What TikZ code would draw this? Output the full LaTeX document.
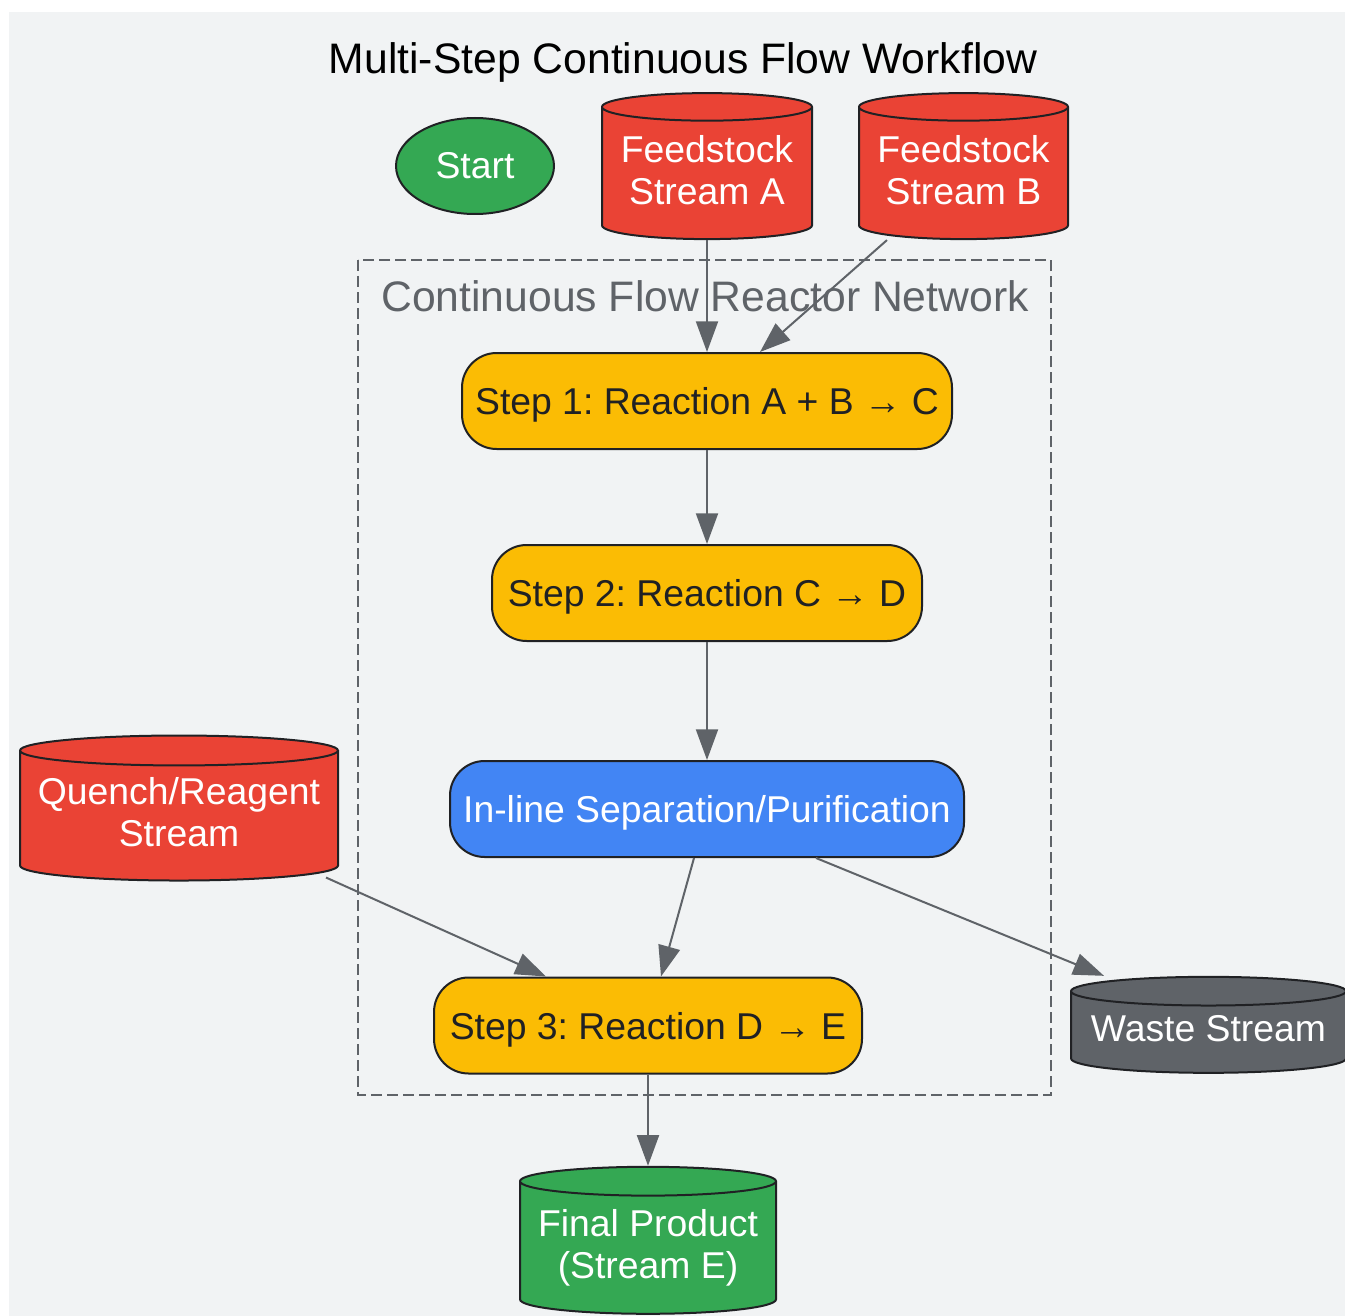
\documentclass[tikz,border=0pt]{standalone}
\usepackage{fontspec}
\setmainfont{Liberation Sans}
\usetikzlibrary{arrows.meta,shapes.geometric}

\definecolor{panelbg}{HTML}{F1F3F4}
\definecolor{streamred}{HTML}{EA4335}
\definecolor{startgreen}{HTML}{34A853}
\definecolor{stepyellow}{HTML}{FBBC04}
\definecolor{sepblue}{HTML}{4285F4}
\definecolor{wastegray}{HTML}{5F6368}
\definecolor{inkdark}{HTML}{202124}

\begin{document}
\frenchspacing
\begin{tikzpicture}[
    x=0.75pt, y=-0.75pt,
    every node/.style={font=\fontsize{28}{31.5}\selectfont, inner sep=0pt},
    process/.style={draw=inkdark, line width=1.5pt, rounded corners=26pt,
        fill=stepyellow, text=inkdark, minimum height=72pt, text depth=0pt},
    store/.style={cylinder, shape border rotate=90,
        draw=inkdark, line width=1.5pt, fill=streamred, text=white,
        align=center, text depth=6pt},
    flow/.style={draw=wastegray, line width=1.5pt,
        -{Triangle[length=23pt,width=16.5pt]}},
    cluster line/.style={draw=wastegray, line width=1.5pt,
        dash pattern=on 8pt off 4pt}
    ]
    \useasboundingbox (0,0) rectangle (1345,1316);
    % background
    \fill[panelbg] (9,12) rectangle (1345,1316);
    % title
    \node (title) at (683,62)
        {\fontsize{32}{36}\selectfont Multi-Step Continuous Flow Workflow};
    % reactor network box
    \draw[cluster line] (358,260) rectangle (1051,1095);
    \node[text=wastegray] (netlabel) at (705,296)
        {\fontsize{32}{36}\selectfont Continuous Flow Reactor Network};
    % start and feeds
    \node[ellipse, draw=inkdark, line width=1.5pt, fill=startgreen,
        text=white, minimum width=118.5pt, minimum height=72pt]
        (start) at (475,166) {Start};
    \node[store, aspect=0.16, minimum width=157.5pt, minimum height=109.5pt]
        (feedA) at (707,173.5) {Feedstock\\Stream A};
    \node[store, aspect=0.16, minimum width=156.75pt, minimum height=109.5pt]
        (feedB) at (963.5,173.5) {Feedstock\\Stream B};
    \node[store, aspect=0.106, minimum width=238.5pt, minimum height=108.75pt]
        (quench) at (179,816) {Quench/Reagent\\Stream};
    % reactor steps
    \node[process, minimum width=367.5pt] (step1) at (707,401)
        {Step 1: Reaction A + B → C};
    \node[process, minimum width=322.5pt] (step2) at (707,593)
        {Step 2: Reaction C → D};
    \node[process, minimum width=385.5pt, fill=sepblue, text=white]
        (sep) at (707,809) {In-line Separation/Purification};
    \node[process, minimum width=321pt] (step3) at (648,1025.5)
        {Step 3: Reaction D → E};
    % outputs
    \node[store, aspect=0.122, fill=wastegray, minimum width=206.25pt,
        minimum height=72pt] (waste) at (1208.5,1032.5) {Waste Stream};
    \node[store, aspect=0.131, fill=startgreen, minimum width=192pt,
        minimum height=110.25pt] (final) at (648,1248)
        {Final Product\\(Stream E)};
    % flows
    \draw[flow] (feedA.south) -- (step1.north);
    \draw[flow] ([xshift=-57.4pt]feedB.south) -- ([xshift=39.75pt]step1.north);
    \draw[flow] (step1.south) -- (step2.north);
    \draw[flow] (step2.south) -- (sep.north);
    \draw[flow] ([xshift=-9.75pt]sep.south) -- ([xshift=9.75pt]step3.north);
    \draw[flow] ([xshift=81.75pt]sep.south) -- ([xshift=-78.4pt]waste.north);
    \draw[flow] ([xshift=110.25pt,yshift=3pt]quench.south)
        -- ([xshift=-76.5pt]step3.north);
    \draw[flow] (step3.south) -- (final.north);
\end{tikzpicture}
\end{document}
